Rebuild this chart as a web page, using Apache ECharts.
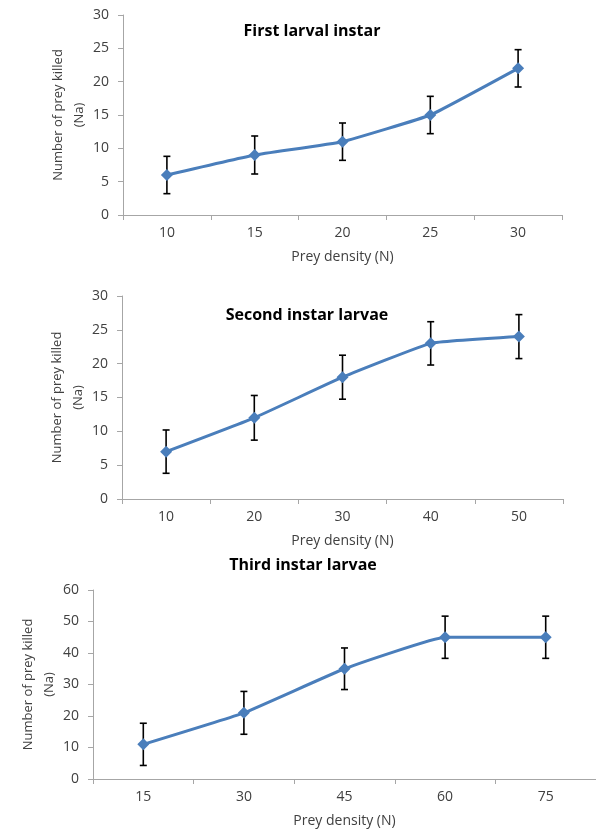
<!DOCTYPE html>
<html><head><meta charset="utf-8">
<script src="https://cdn.jsdelivr.net/npm/echarts@6/dist/echarts.min.js"></script>
<style>html,body{margin:0;padding:0;background:#fff}#c{width:596px;height:829px}</style>
</head><body><div id="c"></div>
<script>
const titles = ['First larval instar', 'Second instar larvae', 'Third instar larvae'];
const cats1 = ['10', '15', '20', '25', '30'];
const vals1 = [6, 9, 11, 15, 22];
const err1 = [2.8, 2.85, 2.8, 2.8, 2.8];
const cats2 = ['10', '20', '30', '40', '50'];
const vals2 = [7, 12, 18, 23, 24];
const err2 = [3.2, 3.3, 3.25, 3.2, 3.25];
const cats3 = ['15', '30', '45', '60', '75'];
const vals3 = [11, 21, 35, 45, 45];
const err3 = [6.7, 6.8, 6.6, 6.7, 6.7];
const yMax = [30, 30, 60];
const yStep = [5, 5, 10];
const xName = 'Prey density (N)';
const yName = 'Number of prey killed\n(Na)';

const FONT = '"Open Sans", sans-serif';
const axisCol = '#a6a6a6';
const txtCol = '#404040';
const blue = '#4a7ebb';

const grids = [
  {left: 123, top: 15, width: 439, height: 200},
  {left: 122, top: 296, width: 441, height: 203},
  {left: 93, top: 590, width: 503, height: 189}
];
const cats = [cats1, cats2, cats3];
const vals = [vals1, vals2, vals3];
const errs = [err1, err2, err3];
const titlePos = [[307, 18], [302, 302], [298, 552]];

const xAxes = [], yAxes = [], series = [], title = [];
for (let i = 0; i < 3; i++) {
  xAxes.push({
    type: 'category', gridIndex: i, data: cats[i], boundaryGap: true,
    axisLine: {lineStyle: {color: axisCol, width: 1}},
    axisTick: {show: true, length: 5, lineStyle: {color: axisCol}},
    axisLabel: {color: txtCol, fontSize: 14, fontFamily: FONT, margin: 11},
    name: xName, nameLocation: 'middle', nameGap: 35, nameMoveOverlap: false,
    nameTextStyle: {color: txtCol, fontSize: 14, fontFamily: FONT}
  });
  yAxes.push({
    type: 'value', gridIndex: i, min: 0, max: yMax[i], interval: yStep[i],
    splitLine: {show: false},
    axisLine: {show: true, lineStyle: {color: axisCol, width: 1}},
    axisTick: {show: true, length: 5, lineStyle: {color: axisCol}},
    axisLabel: {color: txtCol, fontSize: 14, fontFamily: FONT, margin: 14},
    name: yName, nameLocation: 'middle', nameRotate: 90, nameGap: 33, nameMoveOverlap: false,
    nameTextStyle: {color: txtCol, fontSize: 13, fontFamily: FONT, lineHeight: 21, align: 'center'}
  });
  title.push({
    text: titles[i], left: titlePos[i][0], top: titlePos[i][1], textAlign: 'center',
    textStyle: {fontSize: 16, fontWeight: 'bold', color: '#000', fontFamily: FONT}
  });
  const ev = errs[i], vv = vals[i];
  series.push({
    type: 'custom', xAxisIndex: i, yAxisIndex: i, z: 3,
    data: vv.map((v, k) => [k, v - ev[k], v + ev[k]]),
    renderItem: function (params, api) {
      const lo = api.coord([api.value(0), api.value(1)]);
      const hi = api.coord([api.value(0), api.value(2)]);
      const w = 3.5;
      const st = {stroke: '#000', lineWidth: 1.6};
      return {type: 'group', children: [
        {type: 'line', shape: {x1: hi[0], y1: hi[1], x2: lo[0], y2: lo[1]}, style: st},
        {type: 'line', shape: {x1: hi[0] - w, y1: hi[1], x2: hi[0] + w, y2: hi[1]}, style: st},
        {type: 'line', shape: {x1: lo[0] - w, y1: lo[1], x2: lo[0] + w, y2: lo[1]}, style: st}
      ]};
    }
  });
  series.push({
    type: 'line', xAxisIndex: i, yAxisIndex: i, data: vv, z: 4,
    smooth: 0.1, symbol: 'diamond', symbolSize: 12,
    lineStyle: {color: blue, width: 3},
    itemStyle: {color: blue}
  });
}

const chart = echarts.init(document.getElementById('c'), null, {renderer: 'canvas'});
chart.setOption({
  animation: false, backgroundColor: '#fff',
  title: title, grid: grids, xAxis: xAxes, yAxis: yAxes, series: series
});
</script></body></html>
